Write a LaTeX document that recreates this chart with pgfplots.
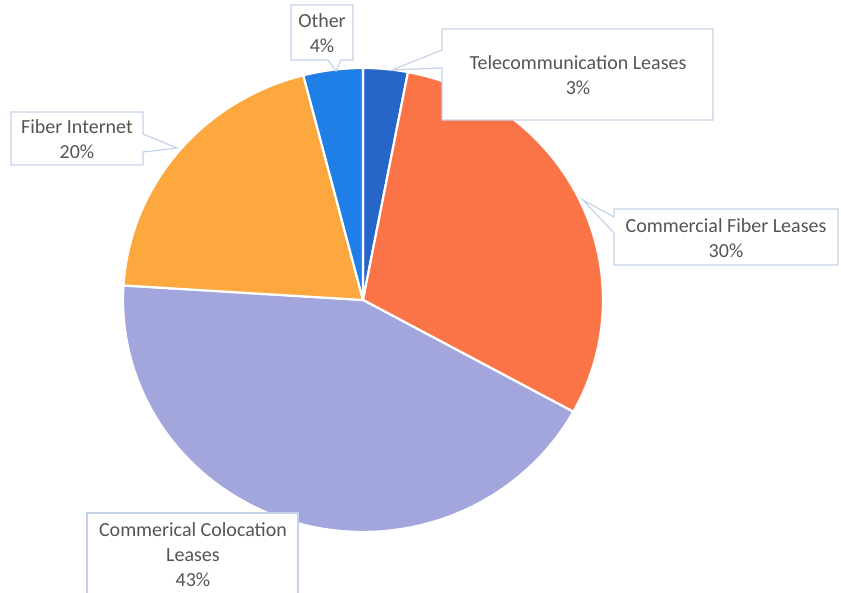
\documentclass[border=0pt]{standalone}
\usepackage{pgfplots}
\pgfplotsset{compat=1.18}
\usepackage{fontspec}
\setmainfont{Carlito}
\definecolor{cTel}{HTML}{2566C8}
\definecolor{cFib}{HTML}{FA7448}
\definecolor{cCol}{HTML}{A2A6DC}
\definecolor{cInt}{HTML}{FCA83F}
\definecolor{cOth}{HTML}{1F7FE6}
\definecolor{cBox}{HTML}{C5D3EA}
\definecolor{cTxt}{HTML}{555555}
% shares (percent): Telecom 3, Commercial Fiber 30, Colocation 43, Fiber Internet 20, Other 4
% slice angles (degrees clockwise from top) = cumulative share * 3.6
\begin{document}
\begin{tikzpicture}
\begin{axis}[name=ax,
  scale only axis, width=841pt, height=593pt,
  xmin=0, xmax=841, ymin=0, ymax=593, y dir=reverse,
  hide axis, clip=false,
  every axis plot/.append style={draw=white, line width=2.2pt, samples=60, line join=round},
]
\addplot[fill=cTel, domain=0:10.8]      ({363+240*sin(x)},{300-232*cos(x)}) -- (axis cs:363,300) -- cycle;
\addplot[fill=cFib, domain=10.8:118.8]  ({363+240*sin(x)},{300-232*cos(x)}) -- (axis cs:363,300) -- cycle;
\addplot[fill=cCol, domain=118.8:273.6] ({363+240*sin(x)},{300-232*cos(x)}) -- (axis cs:363,300) -- cycle;
\addplot[fill=cInt, domain=273.6:345.6] ({363+240*sin(x)},{300-232*cos(x)}) -- (axis cs:363,300) -- cycle;
\addplot[fill=cOth, domain=345.6:360]   ({363+240*sin(x)},{300-232*cos(x)}) -- (axis cs:363,300) -- cycle;

\begin{scope}[draw=cBox, line width=1.2pt, fill=white, text=cTxt,
  every node/.style={font=\fontsize{20}{25}\selectfont, align=center, text=cTxt}]
% Other
\filldraw (axis cs:291,5) -- (axis cs:353,5) -- (axis cs:353,60) -- (axis cs:341,60) -- (axis cs:336,71) -- (axis cs:328,60) -- (axis cs:291,60) -- cycle;
\node at (axis cs:322,33) {Other\\4\%};
% Telecommunication
\filldraw (axis cs:442,29) -- (axis cs:713,29) -- (axis cs:713,120) -- (axis cs:442,120) -- (axis cs:442,68) -- (axis cs:392,70) -- (axis cs:442,50) -- cycle;
\node at (axis cs:578,75) {Telecommunication Leases\\3\%};
% Fiber Internet
\filldraw (axis cs:11,112) -- (axis cs:143,112) -- (axis cs:143,134) -- (axis cs:177,148) -- (axis cs:143,152) -- (axis cs:143,165) -- (axis cs:11,165) -- cycle;
\node at (axis cs:77,139) {Fiber Internet\\20\%};
% Commercial Fiber Leases
\filldraw (axis cs:614,209) -- (axis cs:838,209) -- (axis cs:838,265) -- (axis cs:614,265) -- (axis cs:614,233) -- (axis cs:583,200) -- (axis cs:614,217) -- cycle;
\node at (axis cs:726,238) {Commercial Fiber Leases\\30\%};
% Colocation
\fill[white] (axis cs:87,513) rectangle (axis cs:298,593);
\draw (axis cs:87,593) -- (axis cs:87,513) -- (axis cs:298,513) -- (axis cs:298,593);
\node at (axis cs:193,555) {Commerical Colocation\\Leases\\43\%};
\end{scope}
\end{axis}
\pgfresetboundingbox
\path[use as bounding box] (ax.south west) rectangle (ax.north east);
\end{tikzpicture}
\end{document}
